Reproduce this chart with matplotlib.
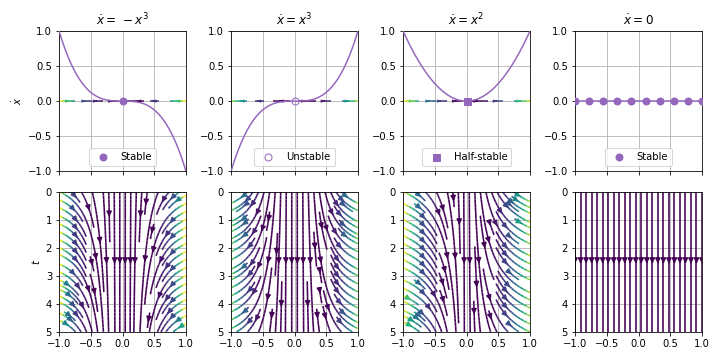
import numpy as np
import matplotlib
matplotlib.use("Agg")
import matplotlib.pyplot as plt

# ---- chart content ----
titles = [r"$\dot{x} = \,-x^3$", r"$\dot{x} = x^3$", r"$\dot{x} = x^2$", r"$\dot{x} = 0$"]
coeffs = [-1.0, 1.0, 1.0, 0.0]          # xdot = coeff * x**power
powers = [3, 3, 2, 0]
fixed_points = [
    [0.0],
    [0.0],
    [0.0],
    [-1.0, -0.778, -0.556, -0.333, -0.111, 0.111, 0.333, 0.556, 0.778, 1.0],
]
fp_markers = ["o", "o", "s", "o"]
fp_filled = [True, False, True, True]
fp_labels = ["Stable", "Unstable", "Half-stable", "Stable"]
x_ticks = [-1.0, -0.5, 0.0, 0.5, 1.0]
xdot_ticks = [-1.0, -0.5, 0.0, 0.5, 1.0]
t_ticks = [0, 1, 2, 3, 4, 5]
t_max = 5.0
seed_x = [-0.88, -0.62, -0.44, -0.2, 0.2, 0.44, 0.62, 0.88]

purple = "#9467bd"

fig, axes = plt.subplots(2, 4, figsize=(10, 5), dpi=72, sharex=True)
fig.subplots_adjust(left=0.082, right=0.975, top=0.914, bottom=0.078,
                    wspace=0.355, hspace=0.145)

x = np.linspace(-1, 1, 200)

for i in range(4):
    c, p = coeffs[i], powers[i]
    f = lambda z: c * z ** p if p > 0 else c * np.ones_like(z)

    # ---- top row: phase line ----
    ax = axes[0, i]
    ax.grid(True, color="#b0b0b0", linewidth=0.8)
    ax.set_axisbelow(True)
    xs = np.linspace(-1, 1, 60)
    ys = np.linspace(-1, 1, 60)
    X, Y = np.meshgrid(xs, ys)
    U = f(X)
    V = np.zeros_like(Y)
    if np.any(U != 0):
        seeds = np.column_stack([seed_x, np.zeros(len(seed_x))])
        ax.streamplot(X, Y, U, V, color=np.abs(U), cmap="viridis",
                      linewidth=1.5, density=1, arrowsize=0.4,
                      start_points=seeds, maxlength=0.14, minlength=0.001,
                      zorder=2)
    ax.plot(x, f(x), color=purple, linewidth=1.5, zorder=3)
    fpx = np.array(fixed_points[i])
    ax.plot(fpx, f(fpx) * 0, linestyle="none", marker=fp_markers[i], markersize=7,
            markerfacecolor=purple if fp_filled[i] else "none",
            markeredgecolor=purple, label=fp_labels[i], zorder=4)
    ax.set_xlim(-1, 1)
    ax.set_ylim(-1, 1)
    ax.set_yticks(xdot_ticks)
    ax.set_title(titles[i], fontsize=12)
    ax.legend(loc="lower center", fontsize=10)
    if i == 0:
        ax.set_ylabel(r"$\dot{x}$")

    # ---- bottom row: trajectories x(t) ----
    ax = axes[1, i]
    ax.grid(True, color="#b0b0b0", linewidth=0.8)
    ax.set_axisbelow(True)
    xs = np.linspace(-1, 1, 50)
    ts = np.linspace(0, t_max, 50)
    X, T = np.meshgrid(xs, ts)
    U = f(X)
    V = np.ones_like(T)
    speed = np.sqrt(U ** 2 + V ** 2)
    ax.streamplot(X, T, U, V, color=speed, cmap="viridis", linewidth=1.6,
                  density=(0.8, 1.2))
    ax.set_xlim(-1, 1)
    ax.set_ylim(t_max, 0)
    ax.set_xticks(x_ticks)
    ax.set_yticks(t_ticks)
    if i == 0:
        ax.set_ylabel(r"$t$")

fig.savefig("out.png", dpi=72)
